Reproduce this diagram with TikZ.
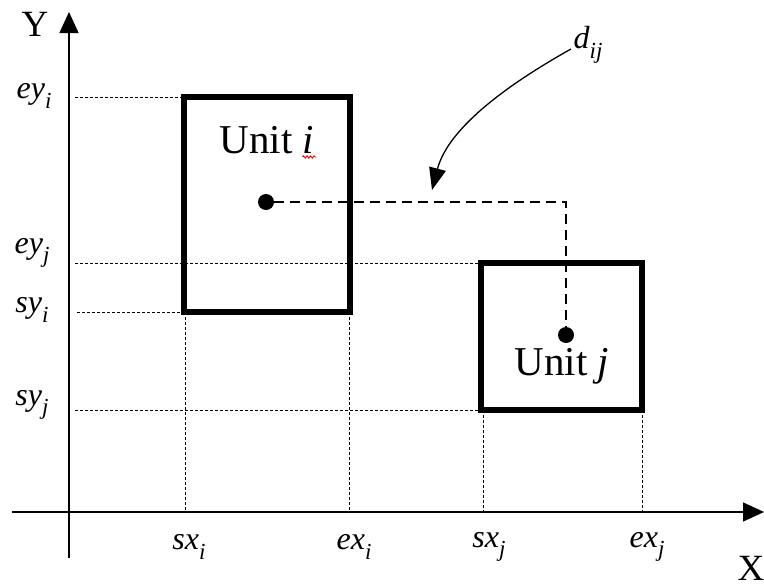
\documentclass[tikz,border=0pt]{standalone}
\usepackage{fontspec}
\setmainfont{Liberation Serif}
\usetikzlibrary{arrows.meta,positioning,calc,decorations.pathmorphing}

% coordinate label with a lowered index
\newcommand{\crd}[2]{\textit{#1}\raisebox{-0.3em}{\fontsize{23}{26}\selectfont\textit{#2}}}

\begin{document}
\begin{tikzpicture}[
    x=1pt, y=-1pt,
    >={Triangle[length=21pt,width=19pt]},
    axis/.style={->, line width=1.4pt},
    unitbox/.style={line width=6pt},
    guide/.style={line width=0.9pt, dash pattern=on 3pt off 2pt},
    link/.style={line width=2pt, dash pattern=on 10pt off 6pt},
    centre/.style={circle, fill, inner sep=0pt, minimum size=16pt},
    ticklbl/.style={font=\fontsize{32}{38}\selectfont, inner sep=0pt},
    unitlbl/.style={font=\fontsize{41}{48}\selectfont, inner sep=0pt},
    axlbl/.style={font=\fontsize{37}{44}\selectfont, inner sep=0pt},
    distarr/.style={-{Triangle[length=22pt,width=17pt]}, line width=1.3pt},
]
\useasboundingbox (0,0) rectangle (764,587);

%% axes
\coordinate (xstart) at (12,512);
\coordinate (xend)   at (764,512);
\coordinate (ystart) at (69,558);
\coordinate (yend)   at (69,12);
\coordinate (gy)     at (75,512);
\draw[axis] (xstart) -- (xend);
\draw[axis] (ystart) -- (yend);
\node[axlbl] (ylbl) at (35,24) {Y};
\node[axlbl] (xlbl) at (751,568) {X};

%% unit corners
\coordinate (itl) at (184,97);
\coordinate (ibr) at (350,312);
\coordinate (ibl) at (184,312);
\coordinate (jtl) at (481,263);
\coordinate (jbr) at (642,410);
\coordinate (jbl) at (481,410);

%% guide lines
\draw[guide] (itl -| gy) -- (itl);
\draw[guide] (jtl -| gy) -- (jtl);
\draw[guide] ($(ibl -| gy)+(2,0)$) -- (ibl);
\draw[guide] (jbl -| gy) -- (jbl);
\draw[guide] ($(ibl)+(1,0)$) -- ($(ibl |- gy)+(1,0)$);
\draw[guide] ($(ibr)+(-1,0)$) -- ($(ibr |- gy)+(-1,0)$);
\draw[guide] ($(jbl)+(2,0)$) -- ($(jbl |- gy)+(2,0)$);
\draw[guide] (jbr) -- (jbr |- gy);

%% units
\draw[unitbox] (itl) rectangle (ibr);
\draw[unitbox] (jtl) rectangle (jbr);
\node[unitlbl] (uniti) at (267,140) {Unit \textit{i}};
\node[unitlbl] (unitj) at (562,366) {Unit \textit{j}};
\draw[red, line width=0.9pt, decorate,
      decoration={snake, segment length=3.5pt, amplitude=1.2pt}]
  ($(uniti.south east)+(-12,3)$) -- ($(uniti.south east)+(2,3)$);

%% tick labels
\node[ticklbl] (eyi) at (34,96)  {\crd{ey}{i}};
\node[ticklbl] (eyj) at (32,253) {\crd{ey}{j}};
\node[ticklbl] (syi) at (32,310) {\crd{sy}{i}};
\node[ticklbl] (syj) at (32,405) {\crd{sy}{j}};
\node[ticklbl] (sxi) at (189,547) {\crd{sx}{i}};
\node[ticklbl] (exi) at (354,547) {\crd{ex}{i}};
\node[ticklbl] (sxj) at (489,547) {\crd{sx}{j}};
\node[ticklbl] (exj) at (647,547) {\crd{ex}{j}};

%% centres and distance
\node[centre] (doti) at (266,202) {};
\node[centre] (dotj) at (566,335) {};
\draw[link] (doti) -| (dotj);

\node[ticklbl] (dij) at (588,45) {\crd{d}{ij}};
\coordinate (dtail) at (571,49);
\coordinate (dhead) at (432,190);
\draw[distarr] (dtail) .. controls (480,100) and (445,140) .. (dhead);

\end{tikzpicture}
\end{document}
